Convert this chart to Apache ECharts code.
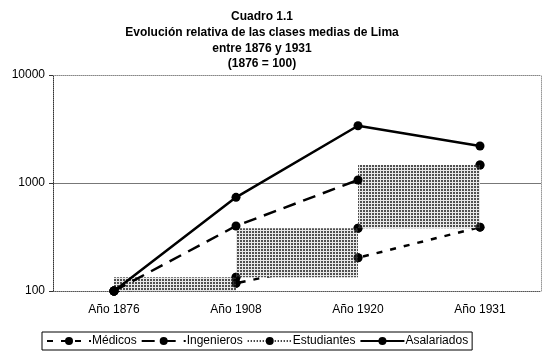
<!DOCTYPE html>
<html><head><meta charset="utf-8">
<script src="https://cdn.jsdelivr.net/npm/echarts@6/dist/echarts.min.js"></script>
<style>html,body{margin:0;padding:0;background:#fff}#c{width:550px;height:358px}</style>
</head><body><div id="c"></div>
<script>
var categories = ['Año 1876', 'Año 1908', 'Año 1920', 'Año 1931'];
var medicos = [100, 118, 203, 390];
var ingenieros = [100, 400, 1066, null];
var estudiantes = [100, 134, 381, 1468];
var asalariados = [100, 737, 3390, 2200];
var yTicks = [100, 1000, 10000];

var pc = document.createElement('canvas');
pc.width = 3; pc.height = 3;
var g = pc.getContext('2d');
g.fillStyle = '#e8e8e8'; g.fillRect(0, 0, 3, 3);
g.fillStyle = '#505050'; g.fillRect(0, 0, 2, 2);

var boxes = estudiantes.slice(0, -1).map(function (v, i) { return [i, v, estudiantes[i + 1]]; });

var chart = echarts.init(document.getElementById('c'));
var font = 'Liberation Sans, Arial, sans-serif';
var lineSeries = function (name, data, lw, type, z) {
  return {
    name: name, type: 'line', data: data, z: z,
    symbol: 'circle', symbolSize: 9, showSymbol: true,
    itemStyle: { color: '#000' },
    lineStyle: { color: '#000', width: lw, type: type },
    emphasis: { disabled: true }, animation: false
  };
};
var markers = function (data) {
  return {
    type: 'scatter', data: data, z: 6, symbol: 'circle', symbolSize: 9,
    itemStyle: { color: '#000' }, silent: true, emphasis: { disabled: true }
  };
};
chart.setOption({
  animation: false,
  textStyle: { fontFamily: font },
  title: {
    text: 'Cuadro 1.1\nEvolución relativa de las clases medias de Lima\nentre 1876 y 1931\n(1876 = 100)',
    left: 262, top: 9, padding: 0, textAlign: 'center',
    textStyle: { fontSize: 12, fontWeight: 'bold', color: '#000', lineHeight: 15.7, fontFamily: font }
  },
  grid: { left: 53, right: 9, top: 75, bottom: 67 },
  legend: {
    left: 42, top: 332, padding: [3, 4, 3, 4],
    borderColor: '#000', borderWidth: 1,
    itemWidth: 44, itemHeight: 10, itemGap: 4,
    textStyle: { fontSize: 12, color: '#000', fontFamily: font, padding: [0, 0, 0, -4] },
    data: ['Médicos', 'Ingenieros', 'Estudiantes', 'Asalariados']
  },
  xAxis: [{
    type: 'category', data: categories, boundaryGap: true,
    axisLine: { lineStyle: { color: '#555', type: 'dotted', width: 1 } },
    axisTick: { show: false },
    axisLabel: { fontSize: 12, color: '#000', margin: 13, fontFamily: font },
    splitLine: { show: false }
  }, {
    type: 'category', data: categories, position: 'top',
    axisLine: { lineStyle: { color: '#888', type: 'dotted', width: 1 } },
    axisTick: { show: false }, axisLabel: { show: false }
  }],
  yAxis: [{
    type: 'log', logBase: 10, min: yTicks[0], max: yTicks[yTicks.length - 1],
    axisLine: { show: true, lineStyle: { color: '#333', type: 'dotted', width: 1 } },
    axisTick: { show: true, length: 4, lineStyle: { color: '#333' } },
    axisLabel: { fontSize: 12, color: '#000', margin: 8, fontFamily: font,
      formatter: function (v) { return String(Math.round(v)); } },
    splitLine: { show: true, showMinLine: false, showMaxLine: false, lineStyle: { color: '#777', width: 1 } },
    minorTick: { show: false }
  }, {
    type: 'log', logBase: 10, min: yTicks[0], max: yTicks[yTicks.length - 1], position: 'right',
    axisLine: { show: true, lineStyle: { color: '#999', type: 'dotted', width: 1 } },
    axisTick: { show: false }, axisLabel: { show: false }, splitLine: { show: false }
  }],
  series: [
    {
      type: 'custom', name: 'boxes', data: boxes, z: 1, silent: true,
      renderItem: function (params, api) {
        var p1 = api.coord([api.value(0), api.value(2)]);
        var p2 = api.coord([api.value(0) + 1, api.value(1)]);
        return {
          type: 'rect',
          shape: { x: p1[0], y: p1[1], width: p2[0] - p1[0], height: p2[1] - p1[1] },
          style: { fill: { image: pc, repeat: 'repeat' } }
        };
      }
    },
    lineSeries('Médicos', medicos, 2.5, [6, 8], 0),
    lineSeries('Ingenieros', ingenieros, 2.5, [13, 8], 3),
    lineSeries('Estudiantes', estudiantes, 1, [1, 2], 0),
    lineSeries('Asalariados', asalariados, 2.5, 'solid', 4),
    markers(medicos),
    markers(estudiantes)
  ]
});
</script></body></html>
